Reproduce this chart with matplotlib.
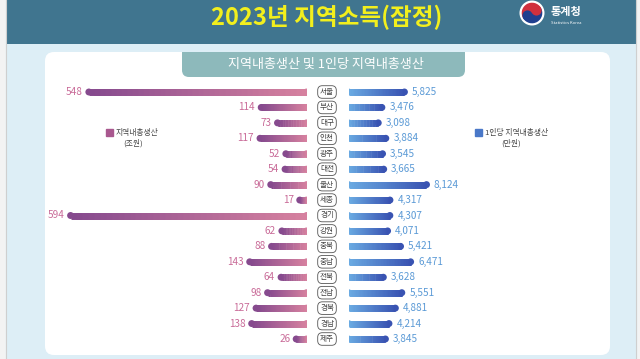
import numpy as np
import matplotlib.pyplot as plt
import matplotlib.transforms as mtransforms
from matplotlib.patches import FancyBboxPatch, Rectangle, Circle, Wedge
from matplotlib.collections import LineCollection
from matplotlib.colors import to_rgb

plt.rcParams['font.family'] = ['Noto Sans CJK KR', 'DejaVu Sans']

# data
regions = ['서울', '부산', '대구', '인천', '광주', '대전', '울산', '세종', '경기',
           '강원', '충북', '충남', '전북', '전남', '경북', '경남', '제주']
grdp = [548, 114, 73, 117, 52, 54, 90, 17, 594, 62, 88, 143, 64, 98, 127, 138, 26]          # 조원
grdp_pc = [5825, 3476, 3098, 3884, 3545, 3665, 8124, 4317, 4307, 4071, 5421, 6471,
           3628, 5551, 4881, 4214, 3845]                                                   # 만원

W, H = 640, 359
fig = plt.figure(figsize=(W / 100, H / 100), dpi=100)
bg = fig.add_axes([0, 0, 1, 1])
bg.set_xlim(0, W)
bg.set_ylim(H, 0)
bg.axis('off')


def px_axes(x0, y0, x1, y1):
    return fig.add_axes([x0 / W, 1 - y1 / H, (x1 - x0) / W, (y1 - y0) / H])


# background / frame
light = '#ddeef6'
bg.add_patch(Rectangle((0, 0), W, H, color='#f3f3f3'))
bg.add_patch(Rectangle((6, 0), 630, H, color=light))
bg.plot([6, 6], [0, H], color='#cfcfcf', lw=0.8)
bg.plot([636, 636], [0, H], color='#cfcfcf', lw=0.8)
bg.add_patch(FancyBboxPatch((45, 52), 565, 303, boxstyle='round,pad=0,rounding_size=9',
                            fc='white', ec='none'))
# subtitle tab hanging from the panel top
bg.add_patch(FancyBboxPatch((182, 46), 283, 31, boxstyle='round,pad=0,rounding_size=7',
                            fc='#8db9bb', ec='none'))
bg.add_patch(Rectangle((176, 44), 296, 8, fc=light, ec='none'))
bg.add_patch(Rectangle((6, 0), 630, 43.5, fc='#40758f', ec='none'))

bg.text(327, 17, '2023년 지역소득(잠정)', fontsize=17, weight='bold', color='#f2ef1d',
        ha='center', va='center')
bg.text(326, 64, '지역내총생산 및 1인당 지역내총생산', fontsize=9.4, color='white',
        ha='center', va='center')

# logo
cx, cy = 532, 13
bg.add_patch(Circle((cx, cy), 12.5, fc='white', ec='none'))
bg.add_patch(Wedge((cx, cy), 10.3, 150, 330, fc='#d0303d', ec='none'))
bg.add_patch(Wedge((cx, cy), 10.3, 330, 150, fc='#1f3f8f', ec='none'))
dx, dy = 5.15 * np.cos(np.radians(150)), 5.15 * np.sin(np.radians(150))
bg.add_patch(Circle((cx + dx, cy + dy), 5.15, fc='#1f3f8f', ec='none'))
bg.add_patch(Circle((cx - dx, cy - dy), 5.15, fc='#d0303d', ec='none'))
bg.text(551, 11, '통계청', fontsize=8, weight='bold', color='white', ha='left', va='center')
bg.text(551, 23, 'Statistics Korea', fontsize=3, color='white', ha='left', va='center')

# legends
bg.add_patch(Rectangle((106, 129), 7, 7, color='#a9588f'))
bg.text(116, 132.5, '지역내총생산', fontsize=5.6, color='#444444', ha='left', va='center')
bg.text(133, 143, '(조원)', fontsize=5.6, color='#444444', ha='center', va='center')
bg.add_patch(Rectangle((475, 129), 7, 7, color='#4a78c8'))
bg.text(485, 132.5, '1인당 지역내총생산', fontsize=5.6, color='#444444', ha='left', va='center')
bg.text(511, 143, '(만원)', fontsize=5.6, color='#444444', ha='center', va='center')

# data axes
row_top, row_bot = 92, 339
half = (row_bot - row_top) / 16 / 2
axL = px_axes(40, row_top - half, 306.5, row_bot + half)
axR = px_axes(348.5, row_top - half, 620, row_bot + half)
axL.set_xlim(671, 0)
axR.set_xlim(0, 28281)
for ax in (axL, axR):
    ax.set_ylim(16.5, -0.5)
    ax.axis('off')

lw = 5.0  # points


def grad_bar(ax, x0, x1, y, c0, c1, n=40):
    xs = np.linspace(x0, x1, n + 1)
    segs = [[(xs[k], y), (xs[min(k + 2, n)], y)] for k in range(n)]
    c0, c1 = np.array(to_rgb(c0)), np.array(to_rgb(c1))
    cols = [(1 - t) * c0 + t * c1 for t in np.linspace(0, 1, n)]
    ax.add_collection(LineCollection(segs, colors=cols, linewidths=lw, capstyle='butt'))
    ax.scatter([x0, x1], [y, y], s=lw ** 2, c=[c0, c1], edgecolors='none')


pink_txt = '#c96b98'
blue_txt = '#5b9ad6'
for i, (v, p) in enumerate(zip(grdp, grdp_pc)):
    grad_bar(axL, v, 0, i, '#864a8e', '#d6819f')
    grad_bar(axR, 0, p, i, '#6aaae2', '#3953b2')
    axL.annotate(f'{v}', (v, i), xytext=(-6, 0), textcoords='offset pixels',
                 ha='right', va='center', fontsize=7.2, color=pink_txt)
    axR.annotate(f'{p:,}', (p, i), xytext=(7.5, 0), textcoords='offset pixels',
                 ha='left', va='center', fontsize=7.2, color=blue_txt)

tr = mtransforms.blended_transform_factory(bg.transData, axR.transData)
for i, r in enumerate(regions):
    bg.text(327, i, r, transform=tr, fontsize=5.5, color='#444444', ha='center', va='center',
            bbox=dict(boxstyle='round,pad=0.3,rounding_size=0.6', fc='white', ec='#555555', lw=0.6))

fig.savefig('out.png', dpi=100)
